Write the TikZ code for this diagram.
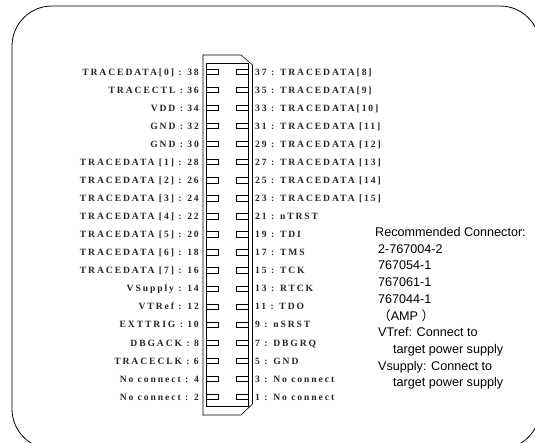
\documentclass[tikz,border=0pt]{standalone}
\usepackage{fontspec}
\setmainfont{Liberation Sans}
\newfontfamily\pinfont[LetterSpace=20]{Liberation Serif}
\newfontfamily\cjk{Noto Sans CJK SC}
\begin{document}
\begin{tikzpicture}[x=1pt,y=-1pt,
    pinlabel/.style={font=\pinfont\bfseries\fontsize{9.6}{11}\selectfont, inner sep=0pt, text=black!85},
    note/.style={font=\fontsize{12.6}{14}\selectfont, inner sep=0pt, anchor=base west}]
  \clip (0,0) rectangle (535,442);
  \draw[line width=0.8pt, rounded corners=40pt] (12,6) rectangle (540,449);

  % connector body
  \draw[line width=0.6pt] (203,55) -- (241,55) -- (252.5,65) -- (252.5,404) -- (241,415) -- (203,415) -- cycle;
  \draw[line width=0.6pt] (206.7,63.3) rectangle (248.7,406);
  \foreach \i in {0,...,18} {
    \draw[line width=0.6pt] (206.7,{69+18.07*\i}) rectangle ++(12,5.4);
    \draw[line width=0.6pt] (248.7,{69+18.07*\i}) rectangle ++(-12,5.4);
  }

  % pin names
  \foreach \l [count=\i from 0] in {{TRACEDATA[0] : 38}, {TRACECTL : 36}, {VDD : 34}, {GND : 32},
      {GND : 30}, {TRACEDATA [1] : 28}, {TRACEDATA [2] : 26}, {TRACEDATA [3] : 24},
      {TRACEDATA [4] : 22}, {TRACEDATA [5] : 20}, {TRACEDATA [6] : 18}, {TRACEDATA [7] : 16},
      {VSupply : 14}, {VTRef : 12}, {EXTTRIG : 10}, {DBGACK : 8}, {TRACECLK : 6},
      {No connect : 4}, {No connect : 2}}
    \node[pinlabel, anchor=base east] (left\i) at (199,{75+18.07*\i}) {\l};
  \foreach \l [count=\i from 0] in {{37 : TRACEDATA[8]}, {35 : TRACEDATA[9]}, {33 : TRACEDATA[10]},
      {31 : TRACEDATA [11]}, {29 : TRACEDATA [12]}, {27 : TRACEDATA [13]}, {25 : TRACEDATA [14]},
      {23 : TRACEDATA [15]}, {21 : nTRST}, {19 : TDI}, {17 : TMS}, {15 : TCK}, {13 : RTCK},
      {11 : TDO}, {9 : nSRST}, {7 : DBGRQ}, {5 : GND}, {3 : No connect}, {1 : No connect}}
    \node[pinlabel, anchor=base west] (right\i) at (255,{75+18.07*\i}) {\l};

  % notes
  \node[note] (rec) at (375,236.5) {Recommended Connector:};
  \node[note] (part1) at (378,253.2) {2-767004-2};
  \node[note] (part2) at (378,269.9) {767054-1};
  \node[note] (part3) at (378,286.6) {767061-1};
  \node[note] (part4) at (378,303.3) {767044-1};
  \node[note] (amp) at (378,320) {{\cjk （}AMP {\cjk ）}};
  \node[note] (vtref) at (378,336.7) {VTref: Connect to};
  \node[note] (vtref2) at (393,353.4) {target power supply};
  \node[note] (vsup) at (378,370.1) {Vsupply: Connect to};
  \node[note] (vsup2) at (393,386.8) {target power supply};
\end{tikzpicture}
\end{document}
